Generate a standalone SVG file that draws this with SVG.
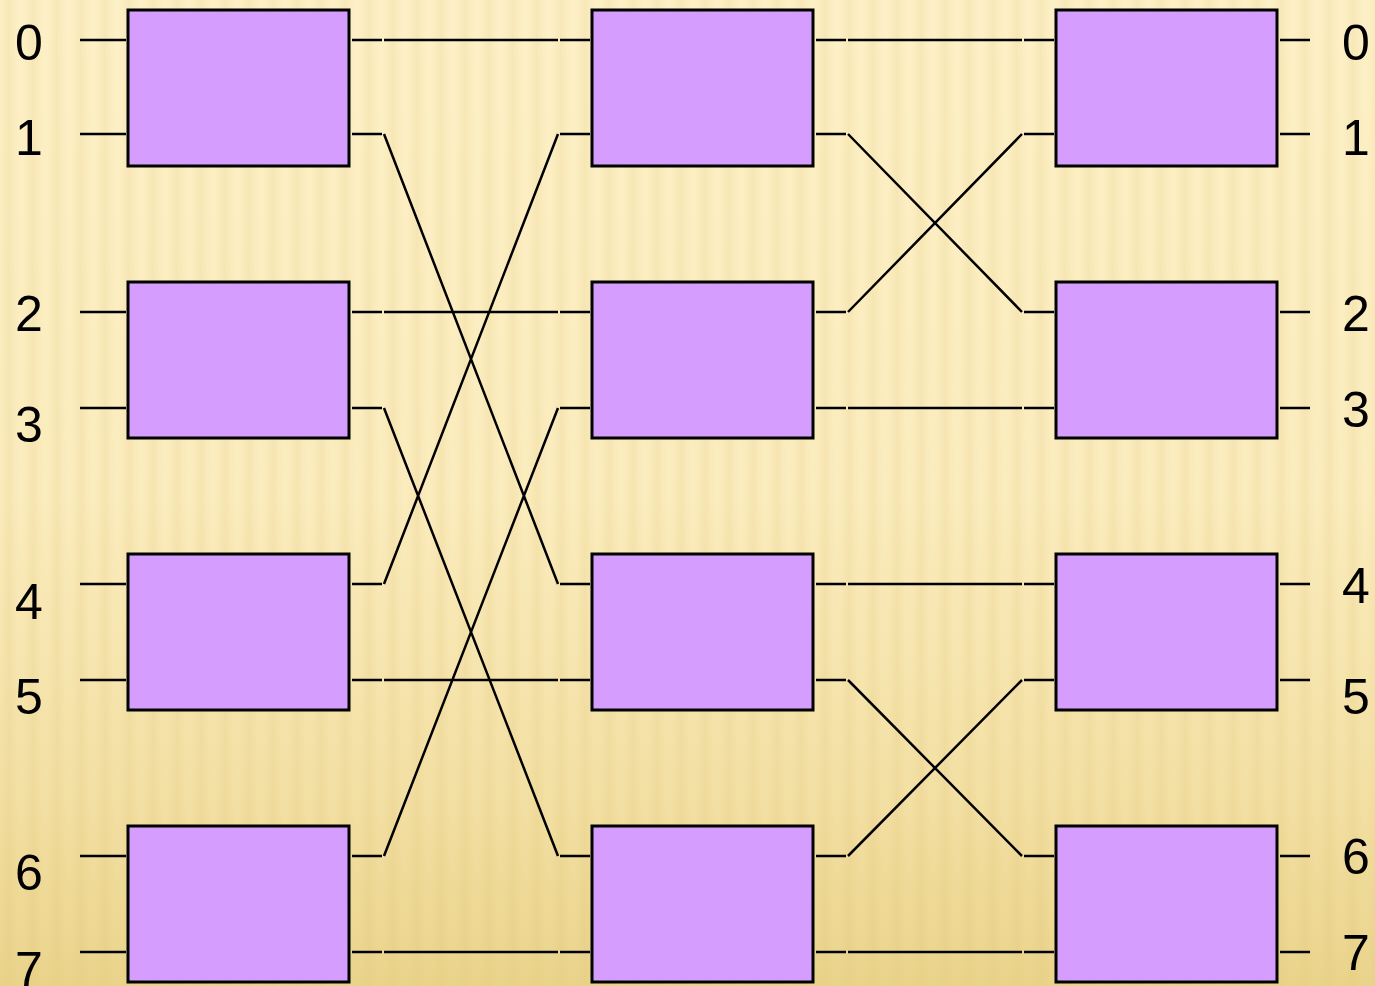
<svg xmlns="http://www.w3.org/2000/svg" width="1375" height="986" viewBox="0 0 1375 986">
  <defs>
    <linearGradient id="bg" x1="0" y1="0" x2="0" y2="1">
      <stop offset="0" stop-color="#fdf0c6"/>
      <stop offset="0.5" stop-color="#fbecbd"/>
      <stop offset="0.8" stop-color="#f3e0a4"/>
      <stop offset="1" stop-color="#ead48c"/>
    </linearGradient>
    <linearGradient id="stripe" x1="0" y1="0" x2="1" y2="0">
      <stop offset="0" stop-color="#d9b865" stop-opacity="0"/>
      <stop offset="0.5" stop-color="#d9b865" stop-opacity="0.14"/>
      <stop offset="1" stop-color="#d9b865" stop-opacity="0"/>
    </linearGradient>
    <pattern id="stripes" x="0" y="0" width="24" height="986" patternUnits="userSpaceOnUse">
      <rect x="0" y="0" width="18" height="986" fill="url(#stripe)"/>
    </pattern>
    <style>
      .box { fill: #d49dfe; stroke: #000; stroke-width: 3; }
      .w { stroke: #000; stroke-width: 2.5; fill: none; }
      .lbl { font-family: "Liberation Sans", Arial, sans-serif; font-size: 50px; fill: #000; text-anchor: middle; }
    </style>
  </defs>
  <rect x="0" y="0" width="1375" height="986" fill="url(#bg)"/>
  <rect x="0" y="0" width="1375" height="986" fill="url(#stripes)"/>

  <g id="labels-left">
    <text class="lbl" x="29" y="60">0</text>
    <text class="lbl" x="29" y="155">1</text>
    <text class="lbl" x="29" y="331">2</text>
    <text class="lbl" x="29" y="442">3</text>
    <text class="lbl" x="29" y="619">4</text>
    <text class="lbl" x="29" y="714">5</text>
    <text class="lbl" x="29" y="890">6</text>
    <text class="lbl" x="29" y="987">7</text>
  </g>
  <g id="labels-right">
    <text class="lbl" x="1356" y="60">0</text>
    <text class="lbl" x="1356" y="155">1</text>
    <text class="lbl" x="1356" y="331">2</text>
    <text class="lbl" x="1356" y="427">3</text>
    <text class="lbl" x="1356" y="603">4</text>
    <text class="lbl" x="1356" y="714">5</text>
    <text class="lbl" x="1356" y="874">6</text>
    <text class="lbl" x="1356" y="970">7</text>
  </g>

  <g id="connectors">
    <path class="w" d="M80 40H126M80 134H126M80 312H126M80 408H126M80 584H126M80 680H126M80 856H126M80 952H126"/>
    <path class="w" d="M352 40H382M352 134H382M352 312H382M352 408H382M352 584H382M352 680H382M352 856H382M352 952H382"/>
    <path class="w" d="M560 40H590M560 134H590M560 312H590M560 408H590M560 584H590M560 680H590M560 856H590M560 952H590"/>
    <path class="w" d="M384 40L558 40M384 134L558 584M384 312L558 312M384 408L558 856M384 584L558 134M384 680L558 680M384 856L558 408M384 952L558 952"/>
    <path class="w" d="M816 40H846M816 134H846M816 312H846M816 408H846M816 584H846M816 680H846M816 856H846M816 952H846"/>
    <path class="w" d="M1024 40H1054M1024 134H1054M1024 312H1054M1024 408H1054M1024 584H1054M1024 680H1054M1024 856H1054M1024 952H1054"/>
    <path class="w" d="M848 40L1022 40M848 134L1022 312M848 312L1022 134M848 408L1022 408M848 584L1022 584M848 680L1022 856M848 856L1022 680M848 952L1022 952"/>
    <path class="w" d="M1280 40H1310M1280 134H1310M1280 312H1310M1280 408H1310M1280 584H1310M1280 680H1310M1280 856H1310M1280 952H1310"/>
  </g>

  <g id="s1-0"><rect class="box" x="128" y="10" width="221" height="156"/></g>
  <g id="s1-1"><rect class="box" x="128" y="282" width="221" height="156"/></g>
  <g id="s1-2"><rect class="box" x="128" y="554" width="221" height="156"/></g>
  <g id="s1-3"><rect class="box" x="128" y="826" width="221" height="156"/></g>
  <g id="s2-0"><rect class="box" x="592" y="10" width="221" height="156"/></g>
  <g id="s2-1"><rect class="box" x="592" y="282" width="221" height="156"/></g>
  <g id="s2-2"><rect class="box" x="592" y="554" width="221" height="156"/></g>
  <g id="s2-3"><rect class="box" x="592" y="826" width="221" height="156"/></g>
  <g id="s3-0"><rect class="box" x="1056" y="10" width="221" height="156"/></g>
  <g id="s3-1"><rect class="box" x="1056" y="282" width="221" height="156"/></g>
  <g id="s3-2"><rect class="box" x="1056" y="554" width="221" height="156"/></g>
  <g id="s3-3"><rect class="box" x="1056" y="826" width="221" height="156"/></g>
</svg>
